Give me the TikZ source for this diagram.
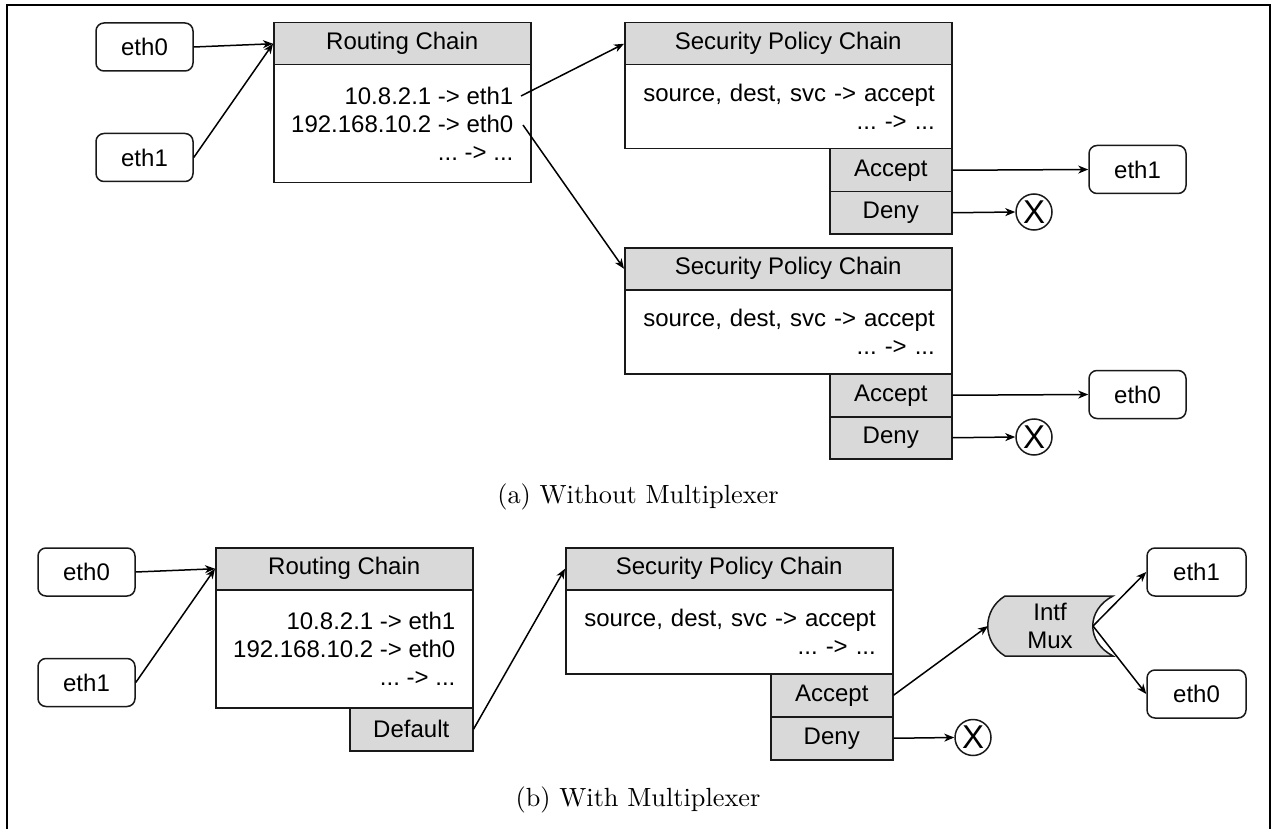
\documentclass[tikz,border=0pt]{standalone}
\usepackage{fontspec}
\usepackage{graphicx}
\usetikzlibrary{arrows.meta}
\newfontfamily\arialfont{Liberation Sans}
\definecolor{hdrgray}{RGB}{217,217,217}
\frenchspacing
\tikzset{
  base/.style={draw=black!90, line width=1.5pt, inner sep=0pt, font=\arialfont\fontsize{24}{27.6}\selectfont\frenchspacing},
  hdr/.style={base, fill=hdrgray, minimum height=42pt, anchor=north west},
  bodybox/.style={base, fill=white, anchor=north west, align=right},
  btn/.style={base, fill=hdrgray, minimum width=122pt, minimum height=43pt, anchor=north west},
  ethbox/.style={base, rounded corners=8pt, minimum width=97pt, minimum height=48pt},
  xcirc/.style={base, circle, minimum size=36pt, font=\arialfont\fontsize{33}{33}\selectfont},
  arr/.style={line width=1.5pt, -{Stealth[length=10pt,width=8pt,inset=3pt]}},
  captext/.style={anchor=base}
}
\begin{document}
\begin{tikzpicture}[x=1pt,y=-1pt]
\useasboundingbox (0,0) rectangle (1274,829);
% frame
\draw[line width=1.3pt] (7,829) -- (7,5) -- (1270,5) -- (1270,829);

% ===== (a) =====
\node[ethbox] (ae0) at (144.5,47) {eth0};
\node[ethbox] (ae1) at (144.5,157.5) {eth1};
\node[hdr, minimum width=257pt] (arh) at (273,22) {Routing Chain};
\node[bodybox, minimum width=257pt, minimum height=118pt] (arb) at (273,64) {10.8.2.1 -> eth1\\192.168.10.2 -> eth0\\... -> ...};
\coordinate (ar1) at (521,96);
\coordinate (ar2) at (523,125);

\node[hdr, minimum width=327pt] (as1h) at (624,22) {Security Policy Chain};
\node[bodybox, minimum width=327pt, minimum height=84pt, text width=293pt] (as1b) at (624,64) {source, dest, svc -> accept\\... -> ...};
\node[btn] (as1a) at (829,148) {Accept};
\node[btn, minimum height=42pt] (as1d) at (829,191) {Deny};

\node[hdr, minimum width=327pt] (as2h) at (624,247) {Security Policy Chain};
\node[bodybox, minimum width=327pt, minimum height=84pt, text width=293pt] (as2b) at (624,289) {source, dest, svc -> accept\\... -> ...};
\node[btn] (as2a) at (829,373) {Accept};
\node[btn, minimum height=42pt] (as2d) at (829,416) {Deny};

\node[ethbox] (aoe1) at (1137.5,169.5) {eth1};
\node[ethbox] (aoe0) at (1137.5,394.5) {eth0};
\node[xcirc] (ax1) at (1034,212) {X};
\node[xcirc] (ax2) at (1034,437) {X};

\draw[arr] (ae0.east) -- (arh.west);
\draw[arr] (ae1.east) -- (arh.west);
\draw[arr] (ar1) -- (as1h.west);
\draw[arr] (ar2) -- (as2h.west);
\draw[arr] (as1a.east) -- (aoe1.west);
\draw[arr] (as1d.east) -- (ax1.west);
\draw[arr] (as2a.east) -- (aoe0.west);
\draw[arr] (as2d.east) -- (ax2.west);

\node[captext] (capa) at (638,503) {\scalebox{2.63}{(a) Without Multiplexer}};

% ===== (b) =====
\node[ethbox] (be0) at (86.5,572) {eth0};
\node[ethbox] (be1) at (86.5,682.5) {eth1};
\node[hdr, minimum width=257pt] (brh) at (215,547) {Routing Chain};
\node[bodybox, minimum width=257pt, minimum height=118pt] (brb) at (215,589) {10.8.2.1 -> eth1\\192.168.10.2 -> eth0\\... -> ...};
\node[btn, minimum width=123pt] (brd) at (349,707) {Default};

\node[hdr, minimum width=327pt] (bsh) at (565,547) {Security Policy Chain};
\node[bodybox, minimum width=327pt, minimum height=84pt, text width=293pt] (bsb) at (565,589) {source, dest, svc -> accept\\... -> ...};
\node[btn] (bsa) at (770,673) {Accept};
\node[btn] (bsd) at (770,716) {Deny};
\node[xcirc] (bx) at (973,737.5) {X};

% mux
\path[base, fill=hdrgray] (1005,596) -- (1113,596)
  .. controls (1086,610) and (1086,642) .. (1113,656)
  -- (1005,656)
  .. controls (982,642) and (982,610) .. (1005,596) -- cycle;
\node[base, draw=none, align=center] (mux) at (1050,626) {Intf\\Mux};
\coordinate (muxw) at (988,626);
\coordinate (muxe) at (1093,626);

\node[ethbox, minimum width=99pt] (boe1) at (1196.5,572) {eth1};
\node[ethbox, minimum width=99pt] (boe0) at (1196.5,694) {eth0};

\draw[arr] (be0.east) -- (brh.west);
\draw[arr] (be1.east) -- (brh.west);
\draw[arr] (brd.east) -- (bsh.west);
\draw[arr] (bsa.east) -- (muxw);
\draw[arr] (bsd.east) -- (bx.west);
\draw[arr] (muxe) -- (boe1.west);
\draw[arr] (muxe) -- (boe0.west);

\node[captext] (capb) at (638,806) {\scalebox{2.63}{(b) With Multiplexer}};
\end{tikzpicture}
\end{document}
